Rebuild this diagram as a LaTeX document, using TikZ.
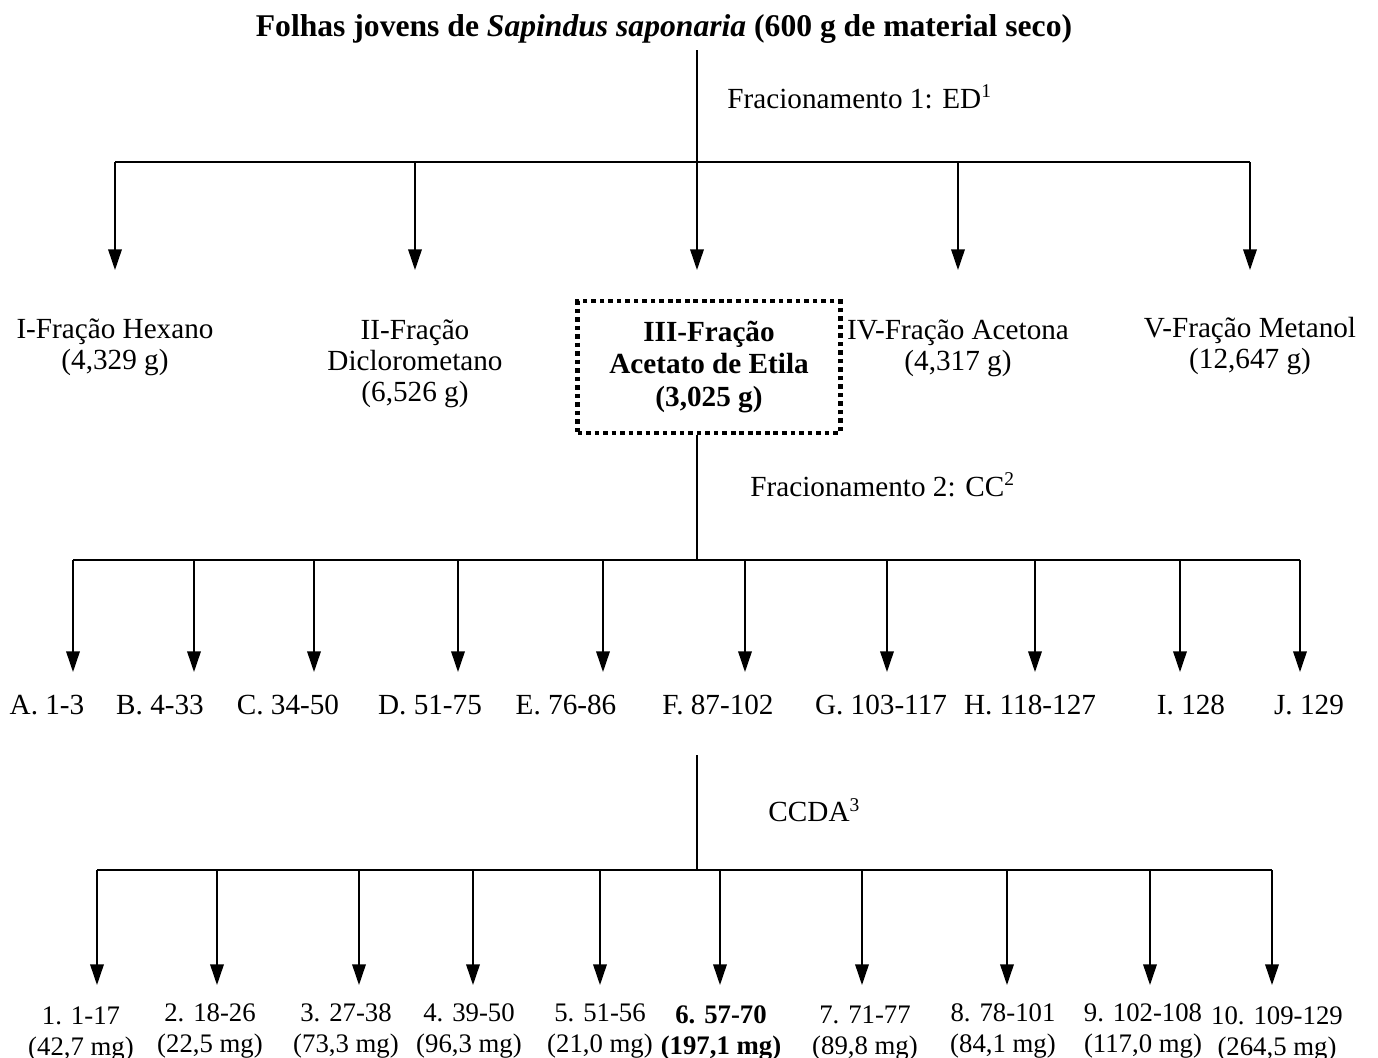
\documentclass[tikz,border=0pt]{standalone}
\usepackage{fontspec}
\setmainfont{Liberation Serif}
\usepackage{tikz}
\usetikzlibrary{arrows.meta, positioning}

\begin{document}
\begin{tikzpicture}[
      x=0.411pt, y=-0.411pt,
      lbl/.style={align=center, inner sep=0pt, font=\fontsize{12}{12.8}\selectfont},
      sub/.style={align=center, inner sep=0pt, font=\fontsize{11}{12.4}\selectfont},
      fracstep/.style={anchor=west, inner sep=0pt, font=\fontsize{12}{13.6}\selectfont},
      chosen/.style={draw, line width=1.8pt, dash pattern=on 1.9pt off 1.6pt, minimum width=108pt, minimum height=54pt, inner sep=0pt, align=center, font=\fontsize{12}{13.4}\selectfont\bfseries},
      ln/.style={line width=0.6pt},
      arr/.style={-{Triangle[length=8.5pt, width=5.6pt]}, line width=0.6pt}
    ]
      \useasboundingbox (0,0) rectangle (1378,1058);

      \node[inner sep=0pt, font=\fontsize{13}{14}\selectfont\bfseries] (T) at (664,29) {Folhas jovens de \textit{Sapindus saponaria} (600 g de material seco)};

      % first split
      \coordinate (top1) at (697,50);
      \coordinate (bar1) at (697,162);
      \coordinate (t1) at (115,270);
      \coordinate (t2) at (415,270);
      \coordinate (t3) at (697,270);
      \coordinate (t4) at (958,270);
      \coordinate (t5) at (1250,270);

      \node[fracstep] (F1) at (727,97) {Fracionamento 1: ED\textsuperscript{1}};

      \node[lbl] (hex) at (115,347) {I-Fração Hexano\\(4,329 g)};
      \node[lbl] (dcm) at (415,364) {II-Fração\\Diclorometano\\(6,526 g)};
      \node[chosen] (etila) at (709,367) {III-Fração\\Acetato de Etila\\(3,025 g)};
      \node[lbl] (acet) at (958,348) {IV-Fração Acetona\\(4,317 g)};
      \node[lbl] (meta) at (1250,346) {V-Fração Metanol\\(12,647 g)};

      \draw[ln] (top1) -- (bar1);
      \draw[ln] (t1 |- bar1) -- (t5 |- bar1);
      \draw[arr] (t1 |- bar1) -- (t1);
      \draw[arr] (t2 |- bar1) -- (t2);
      \draw[arr] (t3 |- bar1) -- (t3);
      \draw[arr] (t4 |- bar1) -- (t4);
      \draw[arr] (t5 |- bar1) -- (t5);

      % second split
      \coordinate (bar2) at (697,560);
      \coordinate (cA) at (73,672);
      \coordinate (cB) at (194,672);
      \coordinate (cC) at (314,672);
      \coordinate (cD) at (458,672);
      \coordinate (cE) at (603,672);
      \coordinate (cF) at (745,672);
      \coordinate (cG) at (887,672);
      \coordinate (cH) at (1035,672);
      \coordinate (cI) at (1180,672);
      \coordinate (cJ) at (1300,672);

      \node[fracstep] (F2) at (750,485) {Fracionamento 2: CC\textsuperscript{2}};

      \node[lbl] (A) at (47,705) {A. 1-3};
      \node[lbl] (B) at (160,705) {B. 4-33};
      \node[lbl] (C) at (288,705) {C. 34-50};
      \node[lbl] (D) at (430,705) {D. 51-75};
      \node[lbl] (E) at (566,705) {E. 76-86};
      \node[lbl] (F) at (718,705) {F. 87-102};
      \node[lbl] (G) at (881,705) {G. 103-117};
      \node[lbl] (H) at (1030,705) {H. 118-127};
      \node[lbl] (I) at (1191,705) {I. 128};
      \node[lbl] (J) at (1309,705) {J. 129};

      \draw[ln] (etila.south -| bar2) -- (bar2);
      \draw[ln] (cA |- bar2) -- (cJ |- bar2);
      \draw[arr] (cA |- bar2) -- (cA);
      \draw[arr] (cB |- bar2) -- (cB);
      \draw[arr] (cC |- bar2) -- (cC);
      \draw[arr] (cD |- bar2) -- (cD);
      \draw[arr] (cE |- bar2) -- (cE);
      \draw[arr] (cF |- bar2) -- (cF);
      \draw[arr] (cG |- bar2) -- (cG);
      \draw[arr] (cH |- bar2) -- (cH);
      \draw[arr] (cI |- bar2) -- (cI);
      \draw[arr] (cJ |- bar2) -- (cJ);

      % third split (CCDA)
      \coordinate (top3) at (697,755);
      \coordinate (bar3) at (697,870);
      \coordinate (d1) at (97,985);
      \coordinate (d2) at (217,985);
      \coordinate (d3) at (359,985);
      \coordinate (d4) at (473,985);
      \coordinate (d5) at (600,985);
      \coordinate (d6) at (720,985);
      \coordinate (d7) at (862,985);
      \coordinate (d8) at (1007,985);
      \coordinate (d9) at (1150,985);
      \coordinate (d10) at (1272,985);

      \node[fracstep] (F3) at (768,810) {CCDA\textsuperscript{3}};

      \node[sub] (p1) at (81,1034) {1. 1-17\\(42,7 mg)};
      \node[sub] (p2) at (210,1031) {2. 18-26\\(22,5 mg)};
      \node[sub] (p3) at (346,1031) {3. 27-38\\(73,3 mg)};
      \node[sub] (p4) at (469,1031) {4. 39-50\\(96,3 mg)};
      \node[sub] (p5) at (600,1031) {5. 51-56\\(21,0 mg)};
      \node[sub, font=\fontsize{11}{12.4}\selectfont\bfseries] (p6) at (721,1033) {6. 57-70\\(197,1 mg)};
      \node[sub] (p7) at (865,1033) {7. 71-77\\(89,8 mg)};
      \node[sub] (p8) at (1003,1031) {8. 78-101\\(84,1 mg)};
      \node[sub] (p9) at (1143,1031) {9. 102-108\\(117,0 mg)};
      \node[sub] (p10) at (1277,1034) {10. 109-129\\(264,5 mg)};

      \draw[ln] (top3) -- (bar3);
      \draw[ln] (d1 |- bar3) -- (d10 |- bar3);
      \draw[arr] (d1 |- bar3) -- (d1);
      \draw[arr] (d2 |- bar3) -- (d2);
      \draw[arr] (d3 |- bar3) -- (d3);
      \draw[arr] (d4 |- bar3) -- (d4);
      \draw[arr] (d5 |- bar3) -- (d5);
      \draw[arr] (d6 |- bar3) -- (d6);
      \draw[arr] (d7 |- bar3) -- (d7);
      \draw[arr] (d8 |- bar3) -- (d8);
      \draw[arr] (d9 |- bar3) -- (d9);
      \draw[arr] (d10 |- bar3) -- (d10);
    \end{tikzpicture}
\end{document}
